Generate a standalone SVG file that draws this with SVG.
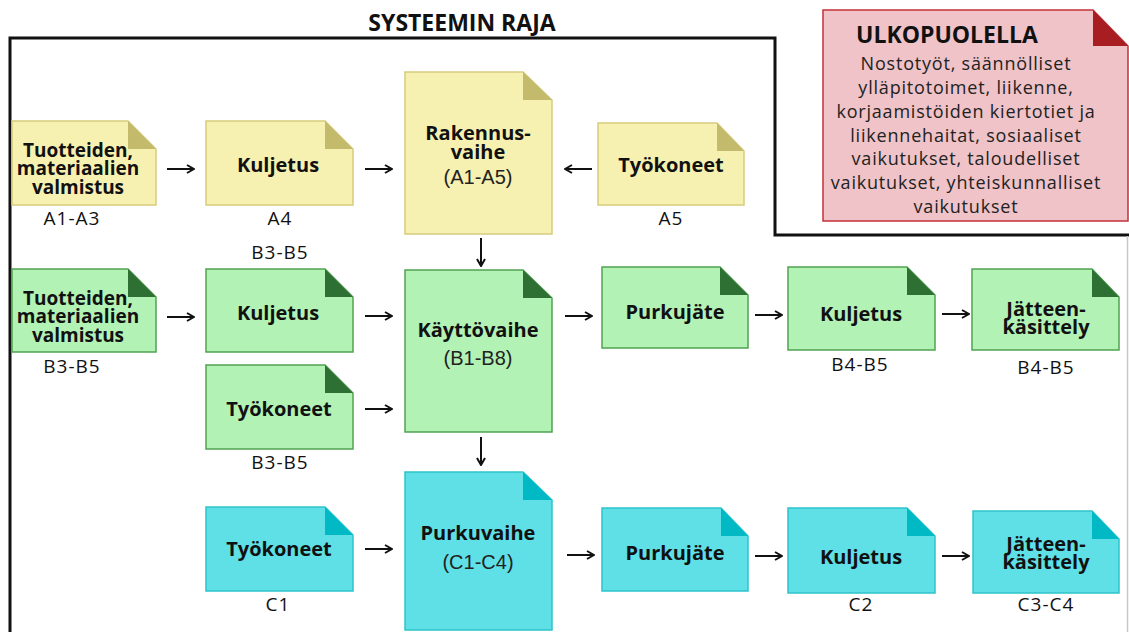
<svg xmlns="http://www.w3.org/2000/svg" width="1129" height="632" viewBox="0 0 1129 632">
  <style>
    .t { font-family: "Open Sans", "Liberation Sans", sans-serif; font-weight: 700; font-size: 20px; fill: #111; text-anchor: middle; }
    .t3 { font-family: "Open Sans", "Liberation Sans", sans-serif; font-weight: 700; font-size: 19px; fill: #111; text-anchor: middle; }
    .sub { font-family: "Liberation Sans", Arial, sans-serif; font-size: 20px; fill: #222; text-anchor: middle; }
    .lbl { font-family: "Open Sans", "Liberation Sans", sans-serif; font-size: 19px; letter-spacing: 1px; fill: #111; text-anchor: middle; }
    .yel .body { fill: #f7f1b1; stroke: #d6cb7e; stroke-width: 1.5; }
    .yel .fold { fill: #c4ba6c; }
    .grn .body { fill: #b3f2b5; stroke: #52a253; stroke-width: 1.5; }
    .grn .fold { fill: #2e7033; }
    .cyn .body { fill: #5ee0e6; stroke: #2cc3cc; stroke-width: 1.5; }
    .cyn .fold { fill: #00b9c5; }
    .conn line { stroke: #111; stroke-width: 2; marker-end: url(#ah); }
  </style>
  <defs>
    <marker id="ah" viewBox="0 0 10 10" refX="9" refY="5" markerWidth="10" markerHeight="10" markerUnits="userSpaceOnUse" orient="auto">
      <path d="M2,1 L9,5 L2,9" fill="none" stroke="#111" stroke-width="2"/>
    </marker>
  </defs>
  <rect width="1129" height="632" fill="#fff"/>

  <!-- system boundary -->
  <g id="boundary">
    <path d="M10,632 L10,38 L775,38 L775,235 L1129,235" fill="none" stroke="#111" stroke-width="3"/>
    <line x1="1127.5" y1="236" x2="1127.5" y2="632" stroke="#c8c8c8" stroke-width="1.5"/>
    <text x="462" y="31" font-family="'Open Sans', 'Liberation Sans', sans-serif" font-weight="700" font-size="23" fill="#111" text-anchor="middle">SYSTEEMIN RAJA</text>
  </g>

  <!-- outside scope note -->
  <g id="ulkopuolella">
    <path d="M823,10 L1093,10 L1128,46 L1128,221 L823,221 Z" fill="#efc3c7" stroke="#c3323a" stroke-width="1.5"/>
    <path d="M1093,10 L1093,46 L1128,46 Z" fill="#a81d22"/>
    <text x="856" y="43" font-family="'Open Sans', 'Liberation Sans', sans-serif" font-weight="700" font-size="23" fill="#111">ULKOPUOLELLA</text>
    <g font-family="'Open Sans', Lato, sans-serif" font-size="18" letter-spacing="0.8" fill="#222" text-anchor="middle">
      <text x="966" y="70">Nostotyöt, säännölliset</text>
      <text x="966" y="94">ylläpitotoimet, liikenne,</text>
      <text x="966" y="118">korjaamistöiden kiertotiet ja</text>
      <text x="966" y="142">liikennehaitat, sosiaaliset</text>
      <text x="966" y="165">vaikutukset, taloudelliset</text>
      <text x="966" y="189">vaikutukset, yhteiskunnalliset</text>
      <text x="966" y="213">vaikutukset</text>
    </g>
  </g>

  <!-- A stage (yellow) -->
  <g id="a-tuotteet" class="yel">
    <path class="body" d="M12,121 L128,121 L156,149 L156,205 L12,205 Z"/>
    <path class="fold" d="M128,121 L128,149 L156,149 Z"/>
    <text class="t3" x="78" y="157">Tuotteiden,</text>
    <text class="t3" x="78" y="175">materiaalien</text>
    <text class="t3" x="78" y="194">valmistus</text>
    <text class="lbl" x="72" y="225">A1-A3</text>
  </g>
  <g id="a-kuljetus" class="yel">
    <path class="body" d="M206,121 L325,121 L353,149 L353,205 L206,205 Z"/>
    <path class="fold" d="M325,121 L325,149 L353,149 Z"/>
    <text class="t" x="278" y="172">Kuljetus</text>
    <text class="lbl" x="280" y="225">A4</text>
  </g>
  <g id="a-rakennusvaihe" class="yel">
    <path class="body" d="M405,72 L523,72 L552,100 L552,234 L405,234 Z"/>
    <path class="fold" d="M523,72 L523,100 L552,100 Z"/>
    <text class="t" x="478" y="140">Rakennus-</text>
    <text class="t" x="478" y="159">vaihe</text>
    <text class="sub" x="478" y="184">(A1-A5)</text>
  </g>
  <g id="a-tyokoneet" class="yel">
    <path class="body" d="M598,123 L717,123 L744,151 L744,205 L598,205 Z"/>
    <path class="fold" d="M717,123 L717,151 L744,151 Z"/>
    <text class="t" x="671" y="172">Työkoneet</text>
    <text class="lbl" x="671" y="225">A5</text>
  </g>

  <!-- B stage (green) -->
  <g id="b-tuotteet" class="grn">
    <path class="body" d="M12,269 L128,269 L156,297 L156,352 L12,352 Z"/>
    <path class="fold" d="M128,269 L128,297 L156,297 Z"/>
    <text class="t3" x="78" y="305">Tuotteiden,</text>
    <text class="t3" x="78" y="323">materiaalien</text>
    <text class="t3" x="78" y="342">valmistus</text>
    <text class="lbl" x="72" y="373">B3-B5</text>
  </g>
  <g id="b-kuljetus" class="grn">
    <path class="body" d="M206,269 L325,269 L353,297 L353,352 L206,352 Z"/>
    <path class="fold" d="M325,269 L325,297 L353,297 Z"/>
    <text class="t" x="278" y="320">Kuljetus</text>
    <text class="lbl" x="280" y="259">B3-B5</text>
  </g>
  <g id="b-tyokoneet" class="grn">
    <path class="body" d="M206,365 L325,365 L353,393 L353,449 L206,449 Z"/>
    <path class="fold" d="M325,365 L325,393 L353,393 Z"/>
    <text class="t" x="279" y="416">Työkoneet</text>
    <text class="lbl" x="280" y="469">B3-B5</text>
  </g>
  <g id="b-kayttovaihe" class="grn">
    <path class="body" d="M405,270 L523,270 L552,298 L552,432 L405,432 Z"/>
    <path class="fold" d="M523,270 L523,298 L552,298 Z"/>
    <text class="t" x="478" y="337">Käyttövaihe</text>
    <text class="sub" x="478" y="365">(B1-B8)</text>
  </g>
  <g id="b-purkujate" class="grn">
    <path class="body" d="M602,267 L720,267 L748,295 L748,348 L602,348 Z"/>
    <path class="fold" d="M720,267 L720,295 L748,295 Z"/>
    <text class="t" x="675" y="319">Purkujäte</text>
  </g>
  <g id="b-kuljetus2" class="grn">
    <path class="body" d="M788,267 L907,267 L935,295 L935,350 L788,350 Z"/>
    <path class="fold" d="M907,267 L907,295 L935,295 Z"/>
    <text class="t" x="861" y="321">Kuljetus</text>
    <text class="lbl" x="860" y="371">B4-B5</text>
  </g>
  <g id="b-jatteenkasittely" class="grn">
    <path class="body" d="M972,269 L1092,269 L1119,297 L1119,350 L972,350 Z"/>
    <path class="fold" d="M1092,269 L1092,297 L1119,297 Z"/>
    <text class="t" x="1046" y="316">Jätteen-</text>
    <text class="t" x="1046" y="334">käsittely</text>
    <text class="lbl" x="1046" y="374">B4-B5</text>
  </g>

  <!-- C stage (cyan) -->
  <g id="c-tyokoneet" class="cyn">
    <path class="body" d="M206,507 L325,507 L353,535 L353,591 L206,591 Z"/>
    <path class="fold" d="M325,507 L325,535 L353,535 Z"/>
    <text class="t" x="279" y="556">Työkoneet</text>
    <text class="lbl" x="278" y="611">C1</text>
  </g>
  <g id="c-purkuvaihe" class="cyn">
    <path class="body" d="M405,472 L523,472 L552,500 L552,630 L405,630 Z"/>
    <path class="fold" d="M523,472 L523,500 L552,500 Z"/>
    <text class="t" x="478" y="540">Purkuvaihe</text>
    <text class="sub" x="478" y="569">(C1-C4)</text>
  </g>
  <g id="c-purkujate" class="cyn">
    <path class="body" d="M602,508 L721,508 L748,536 L748,591 L602,591 Z"/>
    <path class="fold" d="M721,508 L721,536 L748,536 Z"/>
    <text class="t" x="675" y="560">Purkujäte</text>
  </g>
  <g id="c-kuljetus" class="cyn">
    <path class="body" d="M788,508 L907,508 L935,536 L935,593 L788,593 Z"/>
    <path class="fold" d="M907,508 L907,536 L935,536 Z"/>
    <text class="t" x="861" y="564">Kuljetus</text>
    <text class="lbl" x="861" y="611">C2</text>
  </g>
  <g id="c-jatteenkasittely" class="cyn">
    <path class="body" d="M973,511 L1092,511 L1119,539 L1119,593 L973,593 Z"/>
    <path class="fold" d="M1092,511 L1092,539 L1119,539 Z"/>
    <text class="t" x="1046" y="551">Jätteen-</text>
    <text class="t" x="1046" y="569">käsittely</text>
    <text class="lbl" x="1046" y="611">C3-C4</text>
  </g>

  <!-- connectors -->
  <g id="connectors" class="conn">
    <line x1="167" y1="169" x2="194" y2="169"/>
    <line x1="365" y1="169" x2="392" y2="169"/>
    <line x1="592" y1="169" x2="565" y2="169"/>
    <line x1="481" y1="238" x2="481" y2="266"/>
    <line x1="167" y1="317" x2="194" y2="317"/>
    <line x1="365" y1="316" x2="392" y2="316"/>
    <line x1="365" y1="409" x2="392" y2="409"/>
    <line x1="565" y1="316" x2="592" y2="316"/>
    <line x1="755" y1="315" x2="782" y2="315"/>
    <line x1="942" y1="314" x2="969" y2="314"/>
    <line x1="481" y1="437" x2="481" y2="465"/>
    <line x1="365" y1="549" x2="392" y2="549"/>
    <line x1="567" y1="555" x2="594" y2="555"/>
    <line x1="755" y1="556" x2="782" y2="556"/>
    <line x1="942" y1="556" x2="969" y2="556"/>
  </g>
</svg>
